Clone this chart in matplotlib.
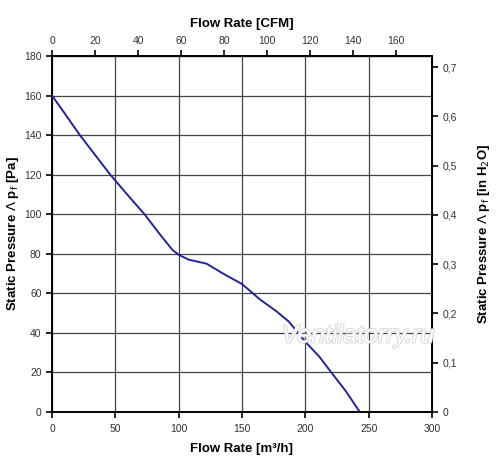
import matplotlib.pyplot as plt
import matplotlib.patheffects as pe
from matplotlib.ticker import FuncFormatter

plt.rcParams['font.family'] = ['Liberation Sans', 'DejaVu Sans']

# fan curve
flow_m3h = [0, 10, 22, 34, 46, 60, 73, 85, 95, 100, 108, 122, 135, 150,
            164, 177, 187, 200, 211, 221, 232, 243]
pressure_pa = [160, 151, 140, 130, 120, 109.5, 100, 90, 82, 79.5, 77, 75, 70, 64.7,
               57, 51, 45.7, 35.5, 28, 19.6, 10.5, 0]

bottom_ticks = [0, 50, 100, 150, 200, 250, 300]
left_ticks = [0, 20, 40, 60, 80, 100, 120, 140, 160, 180]
top_ticks = [0, 20, 40, 60, 80, 100, 120, 140, 160]
right_ticks = [0, 0.1, 0.2, 0.3, 0.4, 0.5, 0.6, 0.7]

M3H_PER_CFM = 1.699
PA_PER_INH2O = 249.09

fig = plt.figure(figsize=(5, 4.73), dpi=100)
ax = fig.add_axes([0.104, 0.129, 0.76, 0.7526])

ax.plot(flow_m3h, pressure_pa, color='#23239a', lw=1.4, zorder=3)

ax.set_xlim(0, 300)
ax.set_ylim(0, 180)
ax.set_xticks(bottom_ticks)
ax.set_yticks(left_ticks)
ax.grid(True, color='#444444', lw=0.9)
for s in ax.spines.values():
    s.set_linewidth(1.4)
ax.tick_params(direction='out', length=4, width=1.2, labelsize=7.5,
               labelcolor='#333333')
ax.tick_params(axis='x', pad=5)

ax.set_xlabel('Flow Rate [m³/h]', fontsize=9.5, fontweight='bold', labelpad=6)
ax.set_ylabel(r'Static Pressure $\Lambda$ p$_\mathrm{f}$ [Pa]', fontsize=9.5,
              fontweight='bold', labelpad=2)

top = ax.secondary_xaxis('top', functions=(lambda x: x / M3H_PER_CFM,
                                           lambda c: c * M3H_PER_CFM))
top.set_xticks(top_ticks)
top.tick_params(direction='out', length=4, width=1.2, labelsize=7.5,
                labelcolor='#333333')
top.set_xlabel('Flow Rate [CFM]', fontsize=9.5, fontweight='bold', labelpad=6)

right = ax.secondary_yaxis('right', functions=(lambda p: p / PA_PER_INH2O,
                                               lambda h: h * PA_PER_INH2O))
right.set_yticks(right_ticks)
right.yaxis.set_major_formatter(FuncFormatter(
    lambda v, pos: '0' if abs(v) < 1e-9 else f'{v:.1f}'.replace('.', ',')))
right.tick_params(direction='out', length=4, width=1.2, labelsize=7.5,
                  labelcolor='#333333')
right.set_ylabel(r'Static Pressure $\Lambda$ p$_\mathrm{f}$ [in H$_2$O]',
                 fontsize=9.5, fontweight='bold', labelpad=14)

# watermark
ax.text(0.805, 0.215, 'Ventilatorry.ru', transform=ax.transAxes, ha='center',
        va='center', fontsize=18, style='italic', color='white', zorder=4,
        path_effects=[pe.withStroke(linewidth=1.3, foreground='#d4d4d4')])

fig.savefig('out.png', dpi=100)
